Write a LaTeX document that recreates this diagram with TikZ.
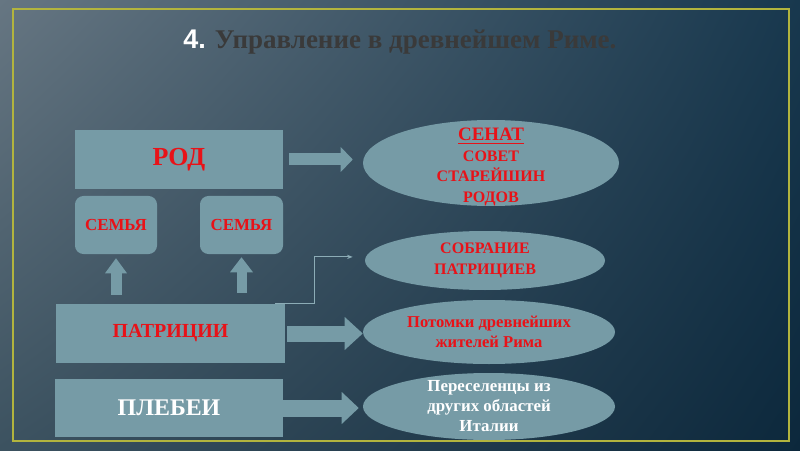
\documentclass[tikz,border=0pt]{standalone}
\usepackage{fontspec}
\setmainfont{Liberation Serif}
\newfontfamily\numfont{Liberation Sans}
\usetikzlibrary{arrows.meta,shapes.geometric,shadings}
\definecolor{boxfill}{RGB}{118,155,166}
\definecolor{textred}{RGB}{232,18,24}
\definecolor{framegold}{RGB}{178,180,62}
\definecolor{titlegray}{RGB}{58,58,58}
\definecolor{linkline}{RGB}{140,172,182}
\definecolor{bgtl}{RGB}{102,118,130}
\definecolor{bgtr}{RGB}{24,56,78}
\definecolor{bgbl}{RGB}{60,82,96}
\definecolor{bgbr}{RGB}{12,40,60}

\begin{document}
\begin{tikzpicture}[
  box/.style={rectangle, fill=boxfill, inner sep=0pt, align=center, text=textred, font=\bfseries\fontsize{14.2}{17}\selectfont},
  familybox/.style={box, rounded corners=6pt, minimum width=2.05cm, minimum height=1.45cm, font=\bfseries\fontsize{12}{14}\selectfont},
  oval/.style={ellipse, fill=boxfill, inner sep=0pt, align=center, text=textred, font=\bfseries\fontsize{11.4}{15}\selectfont},
  ovaltext/.style={inner sep=0pt, align=center, text=textred, font=\bfseries\fontsize{11.4}{14.5}\selectfont},
  blockarrow/.style n args={3}{draw=boxfill, line width=#1, -{Triangle[width=#2, length=#3, line width=0pt]}},
  link/.style={draw=linkline, line width=0.7pt, -{Stealth[length=4pt, width=3pt]}}
]
\useasboundingbox (0,0) rectangle (20,11.25);
\shade[upper left=bgtl, upper right=bgtr, lower left=bgbl, lower right=bgbr] (0,0) rectangle (20,11.25);
\draw[framegold, line width=1.8pt] (0.325,0.225) rectangle (19.725,11.025);

% Title
\node[font=\bfseries\fontsize{19.2}{22}\selectfont] (title) at (10, 10.2) {{\numfont\color{white}4.} {\color{titlegray}Управление в древнейшем Риме.}};

% Left column: social groups
\node[box, minimum width=5.2cm, minimum height=1.475cm, font=\bfseries\fontsize{18.5}{21}\selectfont] (rod) at (4.475, 7.2625) {РОД};
\node[familybox] (fam1) at (2.9, 5.625) {СЕМЬЯ};
\node[familybox, minimum width=2.075cm] (fam2) at (6.0375, 5.625) {СЕМЬЯ};
\node[box, minimum width=5.725cm, minimum height=1.475cm] (pat) at (4.2625, 2.9125) {ПАТРИЦИИ};
\node[box, minimum width=5.7cm, minimum height=1.45cm, text=white, font=\bfseries\fontsize{17}{20}\selectfont] (pleb) at (4.225, 1.05) {ПЛЕБЕИ};

% Right column: institutions
\node[oval, minimum width=6.4cm, minimum height=2.15cm] (senat) at (12.275, 7.175) {};
\node[ovaltext] (senattext) at ([yshift=-0.1cm]senat.center) {{\fontsize{13.5}{16}\selectfont\underline{СЕНАТ}}\\СОВЕТ\\СТАРЕЙШИН\\РОДОВ};
\node[oval, minimum width=6.0cm, minimum height=1.475cm] (sobr) at (12.125, 4.7375) {СОБРАНИЕ\\ПАТРИЦИЕВ};
\node[oval, minimum width=6.3cm, minimum height=1.6cm, font=\bfseries\fontsize{11.8}{14.5}\selectfont] (potomki) at (12.225, 2.95) {Потомки древнейших\\жителей Рима};
\node[oval, minimum width=6.3cm, minimum height=1.675cm] (peresel) at (12.225, 1.0875) {};
\node[ovaltext, text=white, font=\bfseries\fontsize{12}{14.2}\selectfont] (pereseltext) at (peresel.center) {Переселенцы из\\других областей\\Италии};

% Arrows
\draw[blockarrow={0.3cm}{0.625cm}{0.3cm}, shorten <=0.15cm, shorten >=0.25cm] (rod.east) -- (rod.east -| senat.west);
\draw[blockarrow={0.4cm}{0.825cm}{0.45cm}, shorten <=0.05cm] (pat.east) -- (pat.east -| potomki.west);
\draw[blockarrow={0.425cm}{0.8cm}{0.425cm}, shorten >=0.1cm] (pleb.east) -- (pleb.east -| peresel.west);
\draw[blockarrow={0.275cm}{0.55cm}{0.375cm}, shorten <=0.225cm, shorten >=0.1cm] (pat.north -| fam1) -- (fam1.south);
\draw[blockarrow={0.25cm}{0.575cm}{0.375cm}, shorten <=0.275cm, shorten >=0.075cm] (pat.north -| fam2) -- (fam2.south);
\draw[link, shorten >=0.3cm] ([xshift=-0.25cm]pat.north east) -- ([xshift=0.725cm]pat.north east) |- ([yshift=0.09cm]sobr.west);

\end{tikzpicture}
\end{document}
